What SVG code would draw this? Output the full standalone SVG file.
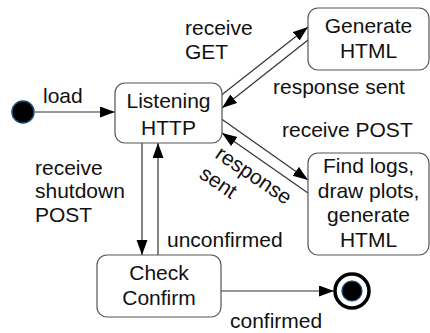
<svg xmlns="http://www.w3.org/2000/svg" width="430" height="333" viewBox="0 0 430 333">
<defs>
<marker id="arr" markerUnits="userSpaceOnUse" markerWidth="16" markerHeight="12" refX="15" refY="5.5" orient="auto">
<path d="M0,0 L15,5.5 L0,11 z" fill="#000"/>
</marker>
<style>
.box{fill:#fff;stroke:#555;stroke-width:1.2}
.t{font-family:"Liberation Sans",Arial,sans-serif;font-size:21px;fill:#111}
.c{text-anchor:middle}
.e{stroke:#333;stroke-width:1.2;fill:none;marker-end:url(#arr)}
</style>
</defs>
<rect width="430" height="333" fill="#fff"/>
<g id="connectors">
<line class="e" x1="35" y1="112" x2="115" y2="112"/>
<line class="e" x1="221.5" y1="95" x2="308" y2="27"/>
<line class="e" x1="308" y1="40" x2="222" y2="108"/>
<line class="e" x1="221.5" y1="119" x2="308" y2="180"/>
<line class="e" x1="308" y1="193" x2="222" y2="133"/>
<line class="e" x1="142" y1="143" x2="142" y2="255"/>
<line class="e" x1="158" y1="255" x2="158" y2="143"/>
<line class="e" x1="221" y1="291" x2="334" y2="291"/>
<text class="t" x="43" y="103">load</text>
<text class="t" x="185" y="35">receive</text>
<text class="t" x="185" y="59">GET</text>
<text class="t" x="273" y="94">response sent</text>
<text class="t" x="282" y="137">receive POST</text>
<text class="t" transform="translate(214,157) rotate(34)">response</text>
<text class="t" transform="translate(198,177) rotate(34)">sent</text>
<text class="t" x="35" y="175">receive</text>
<text class="t" x="35" y="198">shutdown</text>
<text class="t" x="35" y="222">POST</text>
<text class="t" x="167" y="247">unconfirmed</text>
<text class="t" x="230" y="328">confirmed</text>
</g>
<g id="start">
<circle cx="23" cy="112" r="11" fill="#000" stroke="#1e4a78" stroke-width="1.5"/>
</g>
<g id="listening">
<rect class="box" x="115" y="83" width="107" height="60" rx="10"/>
<text class="t c" x="168.5" y="108">Listening</text>
<text class="t c" x="168.5" y="135">HTTP</text>
</g>
<g id="generate">
<rect class="box" x="308" y="8" width="121" height="62" rx="10"/>
<text class="t c" x="368.5" y="33">Generate</text>
<text class="t c" x="368.5" y="58">HTML</text>
</g>
<g id="findlogs">
<rect class="box" x="308" y="153" width="121" height="102" rx="10"/>
<text class="t c" x="368.5" y="173">Find logs,</text>
<text class="t c" x="368.5" y="198">draw plots,</text>
<text class="t c" x="368.5" y="222">generate</text>
<text class="t c" x="368.5" y="247">HTML</text>
</g>
<g id="check">
<rect class="box" x="97" y="255" width="124" height="62" rx="10"/>
<text class="t c" x="159" y="280">Check</text>
<text class="t c" x="159" y="305">Confirm</text>
</g>
<g id="final">
<circle cx="352" cy="291" r="17" fill="#fff" stroke="#000" stroke-width="3.5"/>
<circle cx="352" cy="291" r="10" fill="#000" stroke="#1e4a78" stroke-width="1.2"/>
</g>
</svg>
